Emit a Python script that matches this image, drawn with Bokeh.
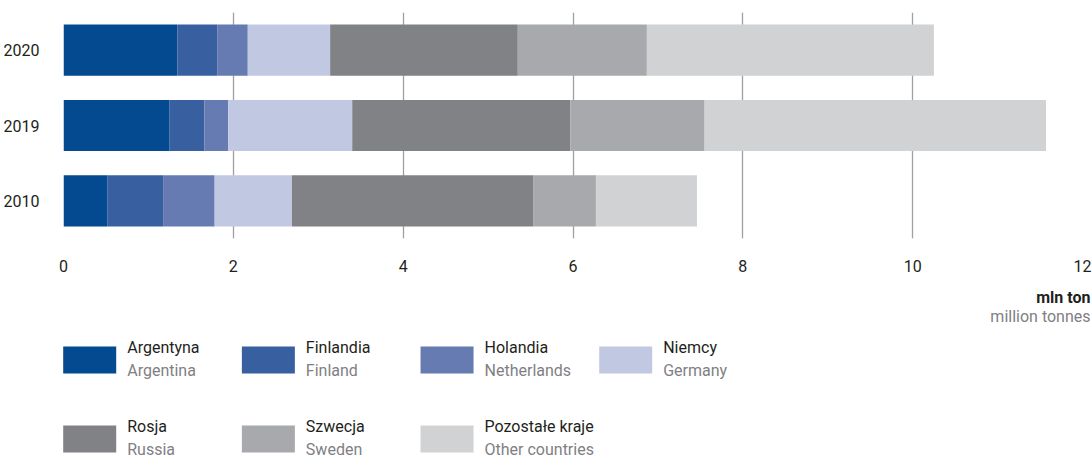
from bokeh.plotting import figure
from bokeh.models import ColumnDataSource, FactorRange, Range1d, FixedTicker, Grid
from bokeh.layouts import column
from bokeh.embed import file_html
from bokeh.resources import INLINE
from bokeh.core.properties import value

# ---- data (million tonnes) ----
years = ["2010", "2019", "2020"]
countries_pl = ["Argentyna", "Finlandia", "Holandia", "Niemcy", "Rosja", "Szwecja", "Pozostałe kraje"]
countries_en = ["Argentina", "Finland", "Netherlands", "Germany", "Russia", "Sweden", "Other countries"]
argentina = [0.52, 1.25, 1.34]
finland = [0.66, 0.41, 0.47]
netherlands = [0.60, 0.28, 0.36]
germany = [0.91, 1.46, 0.97]
russia = [2.84, 2.57, 2.21]
sweden = [0.74, 1.58, 1.52]
others = [1.19, 4.02, 3.38]
x_ticks = [0, 2, 4, 6, 8, 10, 12]
unit_pl = "mln ton"
unit_en = "million tonnes"

colors = ["#034a91", "#3860a0", "#657bb2", "#c1c8e1", "#818286", "#a8a9ad", "#d1d2d4"]
FONT = "Roboto"
FS = "16px"
DARK = "#231f20"
GREY = "#7f8083"

series = [argentina, finland, netherlands, germany, russia, sweden, others]
data = {"year": years}
for name, vals in zip(countries_pl, series):
    data[name] = vals
source = ColumnDataSource(data)

W = 1092
H1 = 280
p = figure(width=W, height=H1, y_range=FactorRange(factors=years, range_padding=0),
           x_range=Range1d(0, 12), output_backend="svg", toolbar_location=None,
           min_border_left=63, min_border_right=10, min_border_top=12, min_border_bottom=42)
p.frame_align = False
p.hbar_stack(countries_pl, y="year", height=0.68, color=colors, line_color=None, source=source)

p.outline_line_color = None
p.ygrid.grid_line_color = None
p.xgrid.ticker = FixedTicker(ticks=[t for t in x_ticks if t not in (0, 12)])
p.xgrid.grid_line_color = "#9fa0a3"
p.xgrid.grid_line_width = 1.3
edge_grid = Grid(dimension=0, ticker=FixedTicker(ticks=[0, 12]),
                 grid_line_color="#7d7e81", grid_line_width=1.3)
p.add_layout(edge_grid)

p.xaxis.ticker = FixedTicker(ticks=x_ticks)
for ax in (p.xaxis[0], p.yaxis[0]):
    ax.axis_line_color = None
    ax.major_tick_line_color = None
    ax.minor_tick_line_color = None
    ax.major_label_text_font = FONT
    ax.major_label_text_font_size = FS
    ax.major_label_text_color = DARK
p.xaxis.major_label_standoff = 15
p.yaxis.major_label_standoff = 18

# ---- legend + unit label panel ----
H2 = 460 - H1
lg = figure(width=W, height=H2, x_range=Range1d(0, W), y_range=Range1d(H2, 0),
            output_backend="svg", toolbar_location=None,
            x_axis_location=None, y_axis_location=None,
            min_border_left=0, min_border_right=0, min_border_top=0, min_border_bottom=0)
lg.frame_align = False
lg.grid.visible = False
lg.outline_line_color = None

lg.text(x=[1090], y=[17], text=[unit_pl], text_font=value(FONT), text_font_size=FS,
        text_font_style="bold", text_color=DARK, text_align="right", text_baseline="alphabetic")
lg.text(x=[1090], y=[35.5], text=[unit_en], text_font=value(FONT), text_font_size=FS,
        text_color=GREY, text_align="right", text_baseline="alphabetic")

n = len(countries_pl)
col_w = 178.67
row_h = 79
lefts = [62.7 + (i % 4) * col_w for i in range(n)]
tops = [66 + (i // 4) * row_h for i in range(n)]
lg.quad(left=lefts, right=[l + 53 for l in lefts], top=tops, bottom=[t + 27 for t in tops],
        color=colors, line_color=None)
lg.text(x=[l + 64 for l in lefts], y=[t + 0.5 for t in tops], text=countries_pl,
        text_font=value(FONT), text_font_size=FS, text_color=DARK,
        text_align="left", text_baseline="alphabetic")
lg.text(x=[l + 64 for l in lefts], y=[t + 23.5 for t in tops], text=countries_en,
        text_font=value(FONT), text_font_size=FS, text_color=GREY,
        text_align="left", text_baseline="alphabetic")

layout = column(p, lg, spacing=0)
open("out.html", "w").write(file_html(layout, INLINE))
